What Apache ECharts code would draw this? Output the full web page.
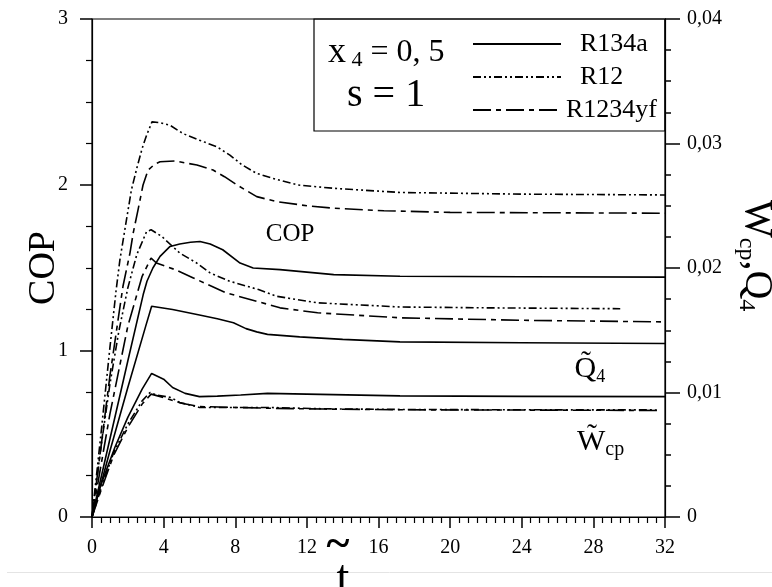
<!DOCTYPE html>
<html>
<head>
<meta charset="utf-8">
<script src="https://cdn.jsdelivr.net/npm/echarts@6/dist/echarts.min.js"></script>
<style>
  html, body { margin: 0; padding: 0; background: #fff; }
  #chart { width: 772px; height: 587px; }
</style>
</head>
<body>
<div id="chart"></div>
<script>
const SERIF = "'Liberation Serif', 'DejaVu Serif', serif";

// ---- COP (left axis) ----
const copR134aT = [0, 1, 2, 2.86, 3.07, 3.4, 3.8, 4.36, 4.9, 5.5, 6.03, 6.6, 7.3, 8.27, 9, 10.5, 13.5, 17.2, 24, 32];
const copR134a  = [0, 0.47, 0.94, 1.34, 1.42, 1.5, 1.57, 1.63, 1.645, 1.655, 1.66, 1.645, 1.61, 1.53, 1.5, 1.49, 1.46, 1.45, 1.447, 1.445];
const copR12T = [0, 0.5, 1, 1.34, 1.56, 1.94, 2.2, 2.5, 2.8, 3.05, 3.35, 3.8, 4.36, 5.08, 6, 6.98, 7.7, 8.4, 9.2, 10.1, 11.5, 13.5, 17.2, 24, 32];
const copR12  = [0, 0.5, 1.02, 1.36, 1.55, 1.8, 1.97, 2.1, 2.22, 2.3, 2.38, 2.375, 2.36, 2.31, 2.27, 2.23, 2.18, 2.12, 2.07, 2.04, 2.0, 1.98, 1.955, 1.945, 1.94];
const copR1234yfT = [0, 0.5, 1, 1.5, 1.73, 2.12, 2.3, 2.57, 2.85, 3.13, 3.5, 3.8, 4.64, 5.86, 6.76, 7.4, 8.1, 9.2, 10.3, 12, 13.5, 16.3, 20, 32];
const copR1234yf  = [0, 0.42, 0.85, 1.22, 1.39, 1.59, 1.71, 1.85, 2.0, 2.09, 2.125, 2.14, 2.145, 2.12, 2.09, 2.05, 2.0, 1.93, 1.9, 1.875, 1.86, 1.845, 1.835, 1.83];

// ---- Q4 heat (right axis) ----
const q4R134aT = [0, 1, 2, 3, 3.33, 4.5, 6, 7, 7.9, 8.6, 9.2, 9.8, 11.6, 14, 17.2, 24, 32];
const q4R134a  = [0, 0.0053, 0.0104, 0.01533, 0.01693, 0.01667, 0.01623, 0.01593, 0.0156, 0.01513, 0.01487, 0.01467, 0.01447, 0.01427, 0.01407, 0.014, 0.01393];
const q4R12T = [0, 0.5, 1, 1.5, 2, 2.5, 3.05, 3.3, 3.9, 4.9, 5.85, 6.6, 7.7, 9.3, 10.3, 12.6, 17.2, 22, 29.5];
const q4R12  = [0, 0.0056, 0.01067, 0.01493, 0.0184, 0.02107, 0.02293, 0.02307, 0.02253, 0.0212, 0.0204, 0.0196, 0.01893, 0.01827, 0.01773, 0.0172, 0.01687, 0.0168, 0.01673];
const q4R1234yfT = [0, 1, 2, 2.8, 3.3, 3.6, 4.64, 5.66, 7.5, 9.2, 10.5, 12.6, 17.2, 24, 32];
const q4R1234yf  = [0, 0.00827, 0.01533, 0.01933, 0.0208, 0.0204, 0.01987, 0.0192, 0.018, 0.01733, 0.0168, 0.0164, 0.016, 0.0158, 0.01567];

// ---- Wcp compressor work (right axis) ----
const wcpR134aT = [0, 0.45, 1.28, 2, 2.8, 3.33, 4, 4.5, 5.2, 6, 7, 8.3, 9.8, 12, 17.2, 24, 32];
const wcpR134a  = [0, 0.0024, 0.0056, 0.008, 0.01027, 0.01153, 0.01107, 0.0104, 0.00993, 0.00967, 0.00971, 0.0098, 0.00993, 0.00987, 0.00973, 0.00969, 0.00967];
const wcpR12T = [0, 0.5, 1.2, 2, 2.8, 3.24, 3.6, 4.4, 4.9, 6, 8, 9.8, 13, 17.2, 24, 31.6];
const wcpR12  = [0, 0.00227, 0.00513, 0.00747, 0.00933, 0.01, 0.0098, 0.0096, 0.0092, 0.0088, 0.0088, 0.0088, 0.00869, 0.00864, 0.00861, 0.0086];
const wcpR1234yfT = [0, 0.5, 1.2, 2, 2.8, 3.3, 4, 5, 6, 8, 10, 13, 17.2, 24, 31.6];
const wcpR1234yf  = [0, 0.00213, 0.00493, 0.0072, 0.00907, 0.00987, 0.0096, 0.00913, 0.00887, 0.0088, 0.00873, 0.00867, 0.00861, 0.00859, 0.00856];

const refrigerants = ['R134a', 'R12', 'R1234yf'];
const dashOf = {
  R134a: 'solid',
  R12: [8, 3, 2, 3, 2, 3],
  R1234yf: [18, 5, 5, 5]
};

const zip = (t, v) => t.map((x, i) => [x, v[i]]);

function curve(id, name, t, v, axisIndex, extra) {
  return Object.assign({
    id: id,
    name: name,
    type: 'line',
    yAxisIndex: axisIndex,
    data: zip(t, v),
    symbol: 'none',
    showSymbol: false,
    silent: true,
    clip: false,
    lineStyle: { color: '#000', width: 1.6, type: dashOf[name] },
    itemStyle: { color: '#000' },
    emphasis: { disabled: true }
  }, extra || {});
}

function textMark(coord, formatter, fontSize, rich) {
  return {
    symbol: 'circle',
    symbolSize: 1,
    silent: true,
    itemStyle: { color: 'rgba(0,0,0,0)' },
    label: {
      show: true, position: 'inside', color: '#000',
      fontFamily: SERIF, fontSize: fontSize, formatter: formatter, rich: rich
    },
    data: [{ coord: coord }]
  };
}

const chart = echarts.init(document.getElementById('chart'), null, { renderer: 'canvas' });

const tickLabel = { color: '#000', fontFamily: SERIF, fontSize: 20 };
const axisLine = { show: true, lineStyle: { color: '#000', width: 1.2 } };

chart.setOption({
  animation: false,
  backgroundColor: '#fff',
  grid: {
    left: 92, right: 107, top: 19, bottom: 70,
    show: true, borderColor: '#000', borderWidth: 1.2,
    containLabel: false, outerBoundsMode: 'none'
  },
  legend: {
    orient: 'vertical',
    left: 467, top: 26,
    itemWidth: 88, itemHeight: 14, itemGap: 7,
    selectedMode: false,
    itemStyle: { opacity: 0 },
    textStyle: { color: '#000', fontFamily: SERIF, fontSize: 26, padding: [0, 0, 0, 14] },
    data: [
      { name: 'R134a' },
      { name: 'R12' },
      { name: 'R1234yf', textStyle: { padding: [0, 0, 0, 0] } }
    ]
  },
  xAxis: {
    type: 'value', min: 0, max: 32, interval: 4,
    axisLine: axisLine,
    axisTick: { show: true, inside: false, length: 11, lineStyle: { color: '#000', width: 1.5 } },
    minorTick: { show: true, splitNumber: 8, length: 6, lineStyle: { color: '#000', width: 1.2 } },
    splitLine: { show: false },
    axisLabel: Object.assign({ margin: 21, showMinLabel: true, showMaxLabel: true }, tickLabel)
  },
  yAxis: [
    {
      type: 'value', min: 0, max: 3, interval: 1, position: 'left',
      name: 'COP', nameLocation: 'middle', nameGap: 29, nameRotate: 90,
      nameMoveOverlap: false,
      nameTextStyle: { color: '#000', fontFamily: SERIF, fontSize: 38 },
      axisLine: axisLine,
      axisTick: { show: true, inside: false, length: 12, lineStyle: { color: '#000', width: 1.5 } },
      minorTick: { show: true, splitNumber: 4, length: 6, lineStyle: { color: '#000', width: 1.2 } },
      splitLine: { show: false },
      axisLabel: Object.assign({ margin: 24, showMinLabel: true, showMaxLabel: true }, tickLabel)
    },
    {
      type: 'value', min: 0, max: 0.04, interval: 0.01, position: 'right',
      axisLine: axisLine,
      axisTick: { show: true, inside: false, length: 15, lineStyle: { color: '#000', width: 1.5 } },
      minorTick: { show: true, splitNumber: 4, length: 6, lineStyle: { color: '#000', width: 1.5 } },
      splitLine: { show: false },
      axisLabel: Object.assign({
        margin: 22, showMinLabel: true, showMaxLabel: true,
        formatter: v => v === 0 ? '0' : v.toFixed(2).replace('.', ',')
      }, tickLabel)
    }
  ],
  series: [
    curve('cop-r134a', 'R134a', copR134aT, copR134a, 0),
    curve('cop-r12', 'R12', copR12T, copR12, 0, {
      markPoint: textMark([11.06, 1.705], 'COP', 25, null)
    }),
    curve('cop-r1234yf', 'R1234yf', copR1234yfT, copR1234yf, 0),

    curve('q4-r134a', 'R134a', q4R134aT, q4R134a, 1, {
      markPoint: textMark([27.8, 0.0119], '{m|Q\u0303}{s|4}', 30, {
        m: { fontFamily: SERIF, fontSize: 30, color: '#000', lineHeight: 34 },
        s: { fontFamily: SERIF, fontSize: 18, color: '#000', verticalAlign: 'bottom' }
      })
    }),
    curve('q4-r12', 'R12', q4R12T, q4R12, 1),
    curve('q4-r1234yf', 'R1234yf', q4R1234yfT, q4R1234yf, 1),

    curve('wcp-r134a', 'R134a', wcpR134aT, wcpR134a, 1, {
      markPoint: textMark([28.4, 0.006], '{m|W\u0303}{s|cp}', 30, {
        m: { fontFamily: SERIF, fontSize: 30, color: '#000', lineHeight: 34 },
        s: { fontFamily: SERIF, fontSize: 20, color: '#000', verticalAlign: 'bottom' }
      })
    }),
    curve('wcp-r12', 'R12', wcpR12T, wcpR12, 1),
    curve('wcp-r1234yf', 'R1234yf', wcpR1234yfT, wcpR1234yf, 1)
  ],
  graphic: [
    {
      type: 'rect', silent: true, z: 1,
      shape: { x: 314, y: 19, width: 351, height: 112 },
      style: { fill: 'none', stroke: '#000', lineWidth: 1.2 }
    },
    {
      type: 'text', silent: true,
      style: {
        x: 328, y: 53, textVerticalAlign: 'middle',
        text: '{x|x}{i| 4}{v| = 0, 5}',
        rich: {
          x: { fontFamily: SERIF, fontSize: 36, fill: '#000' },
          i: { fontFamily: SERIF, fontSize: 22, fill: '#000', verticalAlign: 'bottom', padding: [14, 0, 0, 0] },
          v: { fontFamily: SERIF, fontSize: 32, fill: '#000' }
        }
      }
    },
    {
      type: 'text', silent: true,
      style: {
        x: 347, y: 95, textVerticalAlign: 'middle',
        text: 's = 1', fontFamily: SERIF, fontSize: 40, fill: '#000'
      }
    },
    {
      // right axis title, reading downwards
      type: 'text', silent: true, x: 734, y: 200, rotation: -Math.PI / 2,
      style: {
        x: 0, y: 0, textAlign: 'left', textVerticalAlign: 'bottom',
        text: '{a|W\u0303}{b|cp}{a|,Q\u0303}{b|4}',
        rich: {
          a: { fontFamily: SERIF, fontSize: 40, fill: '#000', lineHeight: 44 },
          b: { fontFamily: SERIF, fontSize: 24, fill: '#000', verticalAlign: 'bottom' }
        }
      }
    },
    {
      type: 'text', silent: true,
      style: {
        x: 338, y: 546, textAlign: 'center', textVerticalAlign: 'middle',
        text: '~', fontFamily: SERIF, fontSize: 44, fontWeight: 'bold', fill: '#000'
      }
    },
    {
      type: 'text', silent: true,
      style: {
        x: 343, y: 580, textAlign: 'center', textVerticalAlign: 'middle',
        text: 't', fontFamily: SERIF, fontSize: 46, fill: '#000'
      }
    },
    {
      type: 'line', silent: true, z: -1,
      shape: { x1: 7, y1: 572.5, x2: 772, y2: 572.5 },
      style: { stroke: '#e4e4e4', lineWidth: 1 }
    }
  ]
});
</script>
</body>
</html>
